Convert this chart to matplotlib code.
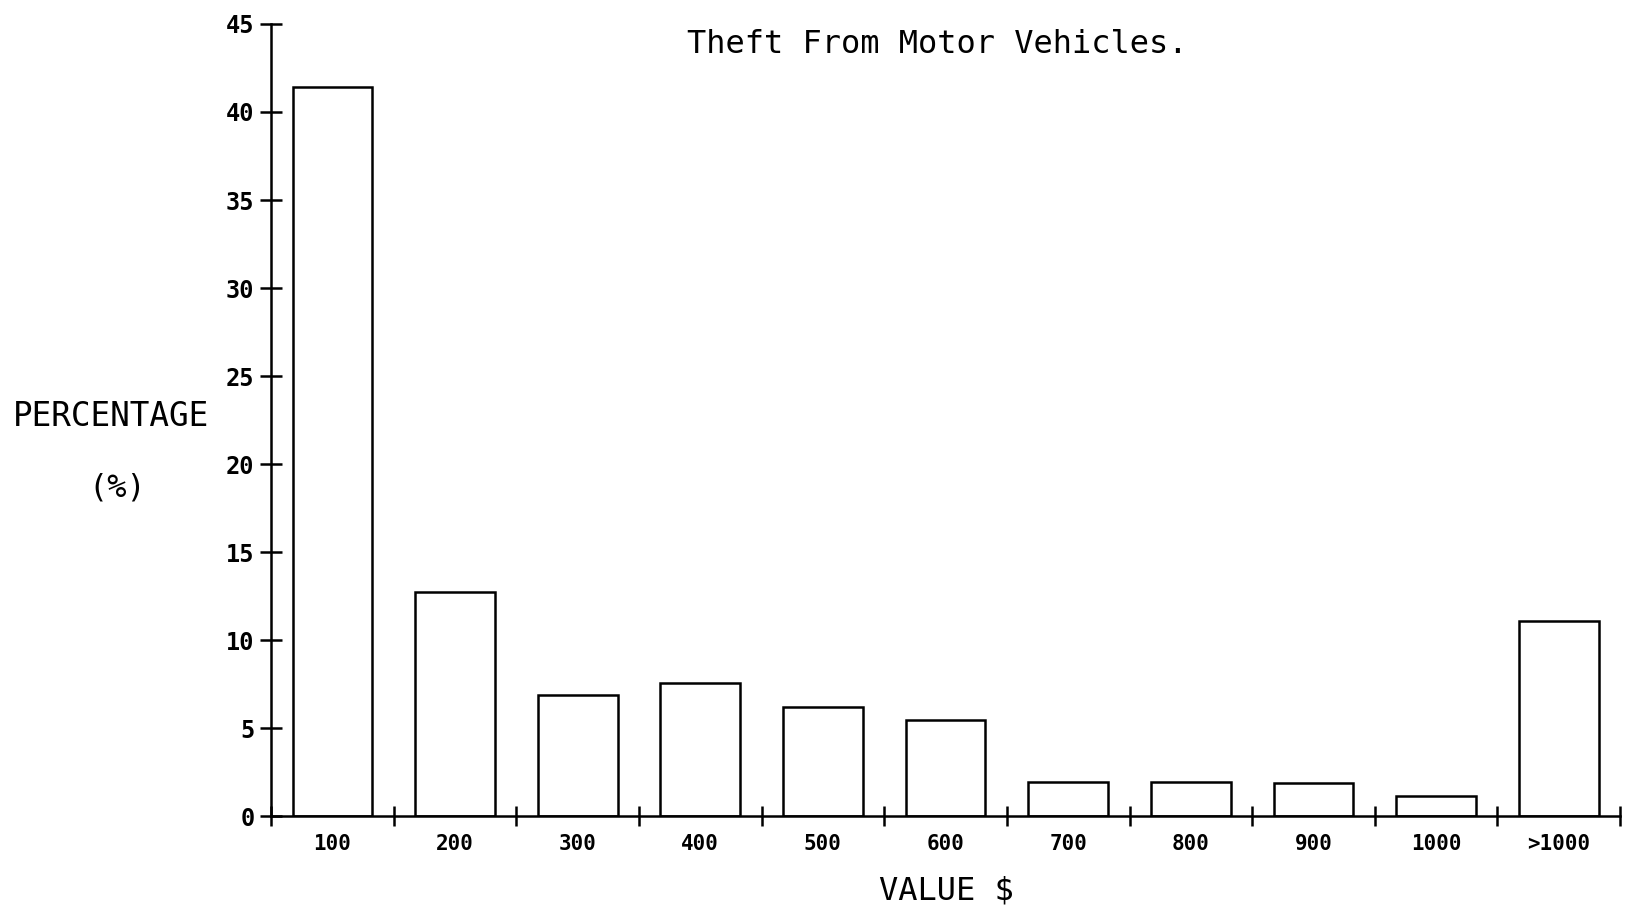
import matplotlib.pyplot as plt
import numpy as np

# === DATA ===
categories = ["100", "200", "300", "400", "500", "600", "700", "800", "900", "1000", ">1000"]
percent = [41.4, 12.7, 6.9, 7.55, 6.2, 5.45, 1.93, 1.93, 1.9, 1.14, 11.1]
y_ticks = [0, 5, 10, 15, 20, 25, 30, 35, 40, 45]

mono = "DejaVu Sans Mono"

# === PLOT ===
fig = plt.figure(figsize=(16.31, 9.09), dpi=100)
ax = fig.add_axes([0.1662, 0.1023, 0.8271, 0.8713])

pos = np.arange(len(categories)) + 0.5
ax.bar(pos, percent, width=0.65, facecolor="white", edgecolor="black", linewidth=1.8)

ax.set_xlim(0, len(categories))
ax.set_ylim(0, 45)

for side in ["top", "right"]:
    ax.spines[side].set_visible(False)
for side in ["left", "bottom"]:
    ax.spines[side].set_linewidth(1.8)

# slot boundary ticks on x, labels in the middle of each slot
ax.set_xticks(np.arange(len(categories) + 1))
ax.set_xticklabels([])
ax.set_xticks(pos, minor=True)
ax.set_xticklabels(categories, minor=True, fontfamily=mono, fontsize=15, fontweight="bold")
ax.tick_params(axis="x", which="major", direction="inout", length=15, width=1.8)
ax.tick_params(axis="x", which="minor", length=0, pad=13)

ax.set_yticks(y_ticks)
ax.set_yticklabels([str(v) for v in y_ticks], fontfamily=mono, fontsize=17, fontweight="bold")
ax.tick_params(axis="y", direction="inout", length=16, width=1.8, pad=4)

fig.text(0.5745, 0.951, "Theft From Motor Vehicles.", ha="center", va="center",
         fontfamily=mono, fontsize=23)
fig.text(0.068, 0.542, "PERCENTAGE", ha="center", va="center", fontfamily=mono, fontsize=23.5)
fig.text(0.072, 0.463, "(%)", ha="center", va="center", fontfamily=mono, fontsize=23)
fig.text(0.580, 0.020, "VALUE $", ha="center", va="center", fontfamily=mono, fontsize=23)

fig.savefig("out.png", dpi=100, facecolor="white")
